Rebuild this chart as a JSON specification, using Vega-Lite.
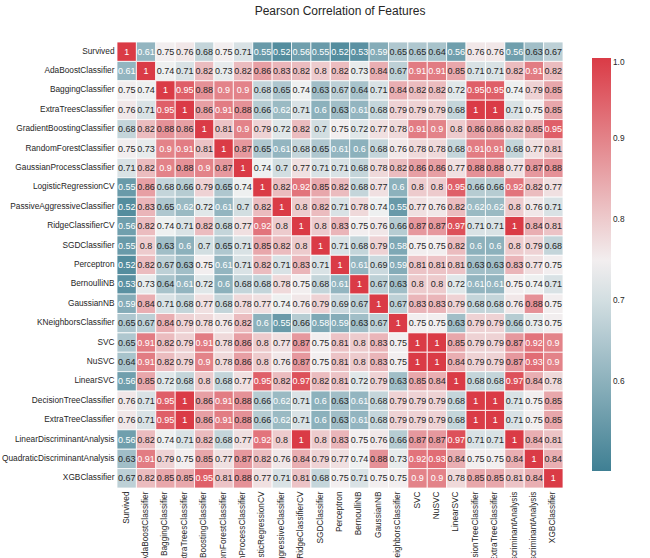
{
"$schema": "https://vega.github.io/schema/vega-lite/v6.json",
"width": 446, "height": 446,
"autosize": "none",
"padding": {"left": 117, "top": 42, "right": 87, "bottom": 70},
"background": "white",
"title": {"text": "Pearson Correlation of Features", "fontSize": 12, "font": "Liberation Sans", "fontWeight": "normal", "color": "#262626", "offset": 24, "anchor": "middle"},
"datasets": {
"names": [{"i":0,"n":"Survived"},{"i":1,"n":"AdaBoostClassifier"},{"i":2,"n":"BaggingClassifier"},{"i":3,"n":"ExtraTreesClassifier"},{"i":4,"n":"GradientBoostingClassifier"},{"i":5,"n":"RandomForestClassifier"},{"i":6,"n":"GaussianProcessClassifier"},{"i":7,"n":"LogisticRegressionCV"},{"i":8,"n":"PassiveAggressiveClassifier"},{"i":9,"n":"RidgeClassifierCV"},{"i":10,"n":"SGDClassifier"},{"i":11,"n":"Perceptron"},{"i":12,"n":"BernoulliNB"},{"i":13,"n":"GaussianNB"},{"i":14,"n":"KNeighborsClassifier"},{"i":15,"n":"SVC"},{"i":16,"n":"NuSVC"},{"i":17,"n":"LinearSVC"},{"i":18,"n":"DecisionTreeClassifier"},{"i":19,"n":"ExtraTreeClassifier"},{"i":20,"n":"LinearDiscriminantAnalysis"},{"i":21,"n":"QuadraticDiscriminantAnalysis"},{"i":22,"n":"XGBClassifier"}],
"corr": [
{"r":0,"c":0,"v":1},{"r":0,"c":1,"v":0.61},{"r":0,"c":2,"v":0.75},{"r":0,"c":3,"v":0.76},{"r":0,"c":4,"v":0.68},{"r":0,"c":5,"v":0.75},{"r":0,"c":6,"v":0.71},{"r":0,"c":7,"v":0.55},{"r":0,"c":8,"v":0.52},{"r":0,"c":9,"v":0.56},{"r":0,"c":10,"v":0.55},{"r":0,"c":11,"v":0.52},{"r":0,"c":12,"v":0.53},{"r":0,"c":13,"v":0.59},{"r":0,"c":14,"v":0.65},{"r":0,"c":15,"v":0.65},{"r":0,"c":16,"v":0.64},{"r":0,"c":17,"v":0.56},{"r":0,"c":18,"v":0.76},{"r":0,"c":19,"v":0.76},{"r":0,"c":20,"v":0.56},{"r":0,"c":21,"v":0.63},{"r":0,"c":22,"v":0.67},
{"r":1,"c":0,"v":0.61},{"r":1,"c":1,"v":1},{"r":1,"c":2,"v":0.74},{"r":1,"c":3,"v":0.71},{"r":1,"c":4,"v":0.82},{"r":1,"c":5,"v":0.73},{"r":1,"c":6,"v":0.82},{"r":1,"c":7,"v":0.86},{"r":1,"c":8,"v":0.83},{"r":1,"c":9,"v":0.82},{"r":1,"c":10,"v":0.8},{"r":1,"c":11,"v":0.82},{"r":1,"c":12,"v":0.73},{"r":1,"c":13,"v":0.84},{"r":1,"c":14,"v":0.67},{"r":1,"c":15,"v":0.91},{"r":1,"c":16,"v":0.91},{"r":1,"c":17,"v":0.85},{"r":1,"c":18,"v":0.71},{"r":1,"c":19,"v":0.71},{"r":1,"c":20,"v":0.82},{"r":1,"c":21,"v":0.91},{"r":1,"c":22,"v":0.82},
{"r":2,"c":0,"v":0.75},{"r":2,"c":1,"v":0.74},{"r":2,"c":2,"v":1},{"r":2,"c":3,"v":0.95},{"r":2,"c":4,"v":0.88},{"r":2,"c":5,"v":0.9},{"r":2,"c":6,"v":0.9},{"r":2,"c":7,"v":0.68},{"r":2,"c":8,"v":0.65},{"r":2,"c":9,"v":0.74},{"r":2,"c":10,"v":0.63},{"r":2,"c":11,"v":0.67},{"r":2,"c":12,"v":0.64},{"r":2,"c":13,"v":0.71},{"r":2,"c":14,"v":0.84},{"r":2,"c":15,"v":0.82},{"r":2,"c":16,"v":0.82},{"r":2,"c":17,"v":0.72},{"r":2,"c":18,"v":0.95},{"r":2,"c":19,"v":0.95},{"r":2,"c":20,"v":0.74},{"r":2,"c":21,"v":0.79},{"r":2,"c":22,"v":0.85},
{"r":3,"c":0,"v":0.76},{"r":3,"c":1,"v":0.71},{"r":3,"c":2,"v":0.95},{"r":3,"c":3,"v":1},{"r":3,"c":4,"v":0.86},{"r":3,"c":5,"v":0.91},{"r":3,"c":6,"v":0.88},{"r":3,"c":7,"v":0.66},{"r":3,"c":8,"v":0.62},{"r":3,"c":9,"v":0.71},{"r":3,"c":10,"v":0.6},{"r":3,"c":11,"v":0.63},{"r":3,"c":12,"v":0.61},{"r":3,"c":13,"v":0.68},{"r":3,"c":14,"v":0.79},{"r":3,"c":15,"v":0.79},{"r":3,"c":16,"v":0.79},{"r":3,"c":17,"v":0.68},{"r":3,"c":18,"v":1},{"r":3,"c":19,"v":1},{"r":3,"c":20,"v":0.71},{"r":3,"c":21,"v":0.75},{"r":3,"c":22,"v":0.85},
{"r":4,"c":0,"v":0.68},{"r":4,"c":1,"v":0.82},{"r":4,"c":2,"v":0.88},{"r":4,"c":3,"v":0.86},{"r":4,"c":4,"v":1},{"r":4,"c":5,"v":0.81},{"r":4,"c":6,"v":0.9},{"r":4,"c":7,"v":0.79},{"r":4,"c":8,"v":0.72},{"r":4,"c":9,"v":0.82},{"r":4,"c":10,"v":0.7},{"r":4,"c":11,"v":0.75},{"r":4,"c":12,"v":0.72},{"r":4,"c":13,"v":0.77},{"r":4,"c":14,"v":0.78},{"r":4,"c":15,"v":0.91},{"r":4,"c":16,"v":0.9},{"r":4,"c":17,"v":0.8},{"r":4,"c":18,"v":0.86},{"r":4,"c":19,"v":0.86},{"r":4,"c":20,"v":0.82},{"r":4,"c":21,"v":0.85},{"r":4,"c":22,"v":0.95},
{"r":5,"c":0,"v":0.75},{"r":5,"c":1,"v":0.73},{"r":5,"c":2,"v":0.9},{"r":5,"c":3,"v":0.91},{"r":5,"c":4,"v":0.81},{"r":5,"c":5,"v":1},{"r":5,"c":6,"v":0.87},{"r":5,"c":7,"v":0.65},{"r":5,"c":8,"v":0.61},{"r":5,"c":9,"v":0.68},{"r":5,"c":10,"v":0.65},{"r":5,"c":11,"v":0.61},{"r":5,"c":12,"v":0.6},{"r":5,"c":13,"v":0.68},{"r":5,"c":14,"v":0.76},{"r":5,"c":15,"v":0.78},{"r":5,"c":16,"v":0.78},{"r":5,"c":17,"v":0.68},{"r":5,"c":18,"v":0.91},{"r":5,"c":19,"v":0.91},{"r":5,"c":20,"v":0.68},{"r":5,"c":21,"v":0.77},{"r":5,"c":22,"v":0.81},
{"r":6,"c":0,"v":0.71},{"r":6,"c":1,"v":0.82},{"r":6,"c":2,"v":0.9},{"r":6,"c":3,"v":0.88},{"r":6,"c":4,"v":0.9},{"r":6,"c":5,"v":0.87},{"r":6,"c":6,"v":1},{"r":6,"c":7,"v":0.74},{"r":6,"c":8,"v":0.7},{"r":6,"c":9,"v":0.77},{"r":6,"c":10,"v":0.71},{"r":6,"c":11,"v":0.71},{"r":6,"c":12,"v":0.68},{"r":6,"c":13,"v":0.78},{"r":6,"c":14,"v":0.82},{"r":6,"c":15,"v":0.86},{"r":6,"c":16,"v":0.86},{"r":6,"c":17,"v":0.77},{"r":6,"c":18,"v":0.88},{"r":6,"c":19,"v":0.88},{"r":6,"c":20,"v":0.77},{"r":6,"c":21,"v":0.87},{"r":6,"c":22,"v":0.88},
{"r":7,"c":0,"v":0.55},{"r":7,"c":1,"v":0.86},{"r":7,"c":2,"v":0.68},{"r":7,"c":3,"v":0.66},{"r":7,"c":4,"v":0.79},{"r":7,"c":5,"v":0.65},{"r":7,"c":6,"v":0.74},{"r":7,"c":7,"v":1},{"r":7,"c":8,"v":0.82},{"r":7,"c":9,"v":0.92},{"r":7,"c":10,"v":0.85},{"r":7,"c":11,"v":0.82},{"r":7,"c":12,"v":0.68},{"r":7,"c":13,"v":0.77},{"r":7,"c":14,"v":0.6},{"r":7,"c":15,"v":0.8},{"r":7,"c":16,"v":0.8},{"r":7,"c":17,"v":0.95},{"r":7,"c":18,"v":0.66},{"r":7,"c":19,"v":0.66},{"r":7,"c":20,"v":0.92},{"r":7,"c":21,"v":0.82},{"r":7,"c":22,"v":0.77},
{"r":8,"c":0,"v":0.52},{"r":8,"c":1,"v":0.83},{"r":8,"c":2,"v":0.65},{"r":8,"c":3,"v":0.62},{"r":8,"c":4,"v":0.72},{"r":8,"c":5,"v":0.61},{"r":8,"c":6,"v":0.7},{"r":8,"c":7,"v":0.82},{"r":8,"c":8,"v":1},{"r":8,"c":9,"v":0.8},{"r":8,"c":10,"v":0.82},{"r":8,"c":11,"v":0.71},{"r":8,"c":12,"v":0.78},{"r":8,"c":13,"v":0.74},{"r":8,"c":14,"v":0.55},{"r":8,"c":15,"v":0.77},{"r":8,"c":16,"v":0.76},{"r":8,"c":17,"v":0.82},{"r":8,"c":18,"v":0.62},{"r":8,"c":19,"v":0.62},{"r":8,"c":20,"v":0.8},{"r":8,"c":21,"v":0.76},{"r":8,"c":22,"v":0.71},
{"r":9,"c":0,"v":0.56},{"r":9,"c":1,"v":0.82},{"r":9,"c":2,"v":0.74},{"r":9,"c":3,"v":0.71},{"r":9,"c":4,"v":0.82},{"r":9,"c":5,"v":0.68},{"r":9,"c":6,"v":0.77},{"r":9,"c":7,"v":0.92},{"r":9,"c":8,"v":0.8},{"r":9,"c":9,"v":1},{"r":9,"c":10,"v":0.8},{"r":9,"c":11,"v":0.83},{"r":9,"c":12,"v":0.75},{"r":9,"c":13,"v":0.76},{"r":9,"c":14,"v":0.66},{"r":9,"c":15,"v":0.87},{"r":9,"c":16,"v":0.87},{"r":9,"c":17,"v":0.97},{"r":9,"c":18,"v":0.71},{"r":9,"c":19,"v":0.71},{"r":9,"c":20,"v":1},{"r":9,"c":21,"v":0.84},{"r":9,"c":22,"v":0.81},
{"r":10,"c":0,"v":0.55},{"r":10,"c":1,"v":0.8},{"r":10,"c":2,"v":0.63},{"r":10,"c":3,"v":0.6},{"r":10,"c":4,"v":0.7},{"r":10,"c":5,"v":0.65},{"r":10,"c":6,"v":0.71},{"r":10,"c":7,"v":0.85},{"r":10,"c":8,"v":0.82},{"r":10,"c":9,"v":0.8},{"r":10,"c":10,"v":1},{"r":10,"c":11,"v":0.71},{"r":10,"c":12,"v":0.68},{"r":10,"c":13,"v":0.79},{"r":10,"c":14,"v":0.58},{"r":10,"c":15,"v":0.75},{"r":10,"c":16,"v":0.75},{"r":10,"c":17,"v":0.82},{"r":10,"c":18,"v":0.6},{"r":10,"c":19,"v":0.6},{"r":10,"c":20,"v":0.8},{"r":10,"c":21,"v":0.79},{"r":10,"c":22,"v":0.68},
{"r":11,"c":0,"v":0.52},{"r":11,"c":1,"v":0.82},{"r":11,"c":2,"v":0.67},{"r":11,"c":3,"v":0.63},{"r":11,"c":4,"v":0.75},{"r":11,"c":5,"v":0.61},{"r":11,"c":6,"v":0.71},{"r":11,"c":7,"v":0.82},{"r":11,"c":8,"v":0.71},{"r":11,"c":9,"v":0.83},{"r":11,"c":10,"v":0.71},{"r":11,"c":11,"v":1},{"r":11,"c":12,"v":0.61},{"r":11,"c":13,"v":0.69},{"r":11,"c":14,"v":0.59},{"r":11,"c":15,"v":0.81},{"r":11,"c":16,"v":0.81},{"r":11,"c":17,"v":0.81},{"r":11,"c":18,"v":0.63},{"r":11,"c":19,"v":0.63},{"r":11,"c":20,"v":0.83},{"r":11,"c":21,"v":0.77},{"r":11,"c":22,"v":0.75},
{"r":12,"c":0,"v":0.53},{"r":12,"c":1,"v":0.73},{"r":12,"c":2,"v":0.64},{"r":12,"c":3,"v":0.61},{"r":12,"c":4,"v":0.72},{"r":12,"c":5,"v":0.6},{"r":12,"c":6,"v":0.68},{"r":12,"c":7,"v":0.68},{"r":12,"c":8,"v":0.78},{"r":12,"c":9,"v":0.75},{"r":12,"c":10,"v":0.68},{"r":12,"c":11,"v":0.61},{"r":12,"c":12,"v":1},{"r":12,"c":13,"v":0.67},{"r":12,"c":14,"v":0.63},{"r":12,"c":15,"v":0.8},{"r":12,"c":16,"v":0.8},{"r":12,"c":17,"v":0.72},{"r":12,"c":18,"v":0.61},{"r":12,"c":19,"v":0.61},{"r":12,"c":20,"v":0.75},{"r":12,"c":21,"v":0.74},{"r":12,"c":22,"v":0.71},
{"r":13,"c":0,"v":0.59},{"r":13,"c":1,"v":0.84},{"r":13,"c":2,"v":0.71},{"r":13,"c":3,"v":0.68},{"r":13,"c":4,"v":0.77},{"r":13,"c":5,"v":0.68},{"r":13,"c":6,"v":0.78},{"r":13,"c":7,"v":0.77},{"r":13,"c":8,"v":0.74},{"r":13,"c":9,"v":0.76},{"r":13,"c":10,"v":0.79},{"r":13,"c":11,"v":0.69},{"r":13,"c":12,"v":0.67},{"r":13,"c":13,"v":1},{"r":13,"c":14,"v":0.67},{"r":13,"c":15,"v":0.83},{"r":13,"c":16,"v":0.83},{"r":13,"c":17,"v":0.79},{"r":13,"c":18,"v":0.68},{"r":13,"c":19,"v":0.68},{"r":13,"c":20,"v":0.76},{"r":13,"c":21,"v":0.88},{"r":13,"c":22,"v":0.75},
{"r":14,"c":0,"v":0.65},{"r":14,"c":1,"v":0.67},{"r":14,"c":2,"v":0.84},{"r":14,"c":3,"v":0.79},{"r":14,"c":4,"v":0.78},{"r":14,"c":5,"v":0.76},{"r":14,"c":6,"v":0.82},{"r":14,"c":7,"v":0.6},{"r":14,"c":8,"v":0.55},{"r":14,"c":9,"v":0.66},{"r":14,"c":10,"v":0.58},{"r":14,"c":11,"v":0.59},{"r":14,"c":12,"v":0.63},{"r":14,"c":13,"v":0.67},{"r":14,"c":14,"v":1},{"r":14,"c":15,"v":0.75},{"r":14,"c":16,"v":0.75},{"r":14,"c":17,"v":0.63},{"r":14,"c":18,"v":0.79},{"r":14,"c":19,"v":0.79},{"r":14,"c":20,"v":0.66},{"r":14,"c":21,"v":0.73},{"r":14,"c":22,"v":0.75},
{"r":15,"c":0,"v":0.65},{"r":15,"c":1,"v":0.91},{"r":15,"c":2,"v":0.82},{"r":15,"c":3,"v":0.79},{"r":15,"c":4,"v":0.91},{"r":15,"c":5,"v":0.78},{"r":15,"c":6,"v":0.86},{"r":15,"c":7,"v":0.8},{"r":15,"c":8,"v":0.77},{"r":15,"c":9,"v":0.87},{"r":15,"c":10,"v":0.75},{"r":15,"c":11,"v":0.81},{"r":15,"c":12,"v":0.8},{"r":15,"c":13,"v":0.83},{"r":15,"c":14,"v":0.75},{"r":15,"c":15,"v":1},{"r":15,"c":16,"v":1},{"r":15,"c":17,"v":0.85},{"r":15,"c":18,"v":0.79},{"r":15,"c":19,"v":0.79},{"r":15,"c":20,"v":0.87},{"r":15,"c":21,"v":0.92},{"r":15,"c":22,"v":0.9},
{"r":16,"c":0,"v":0.64},{"r":16,"c":1,"v":0.91},{"r":16,"c":2,"v":0.82},{"r":16,"c":3,"v":0.79},{"r":16,"c":4,"v":0.9},{"r":16,"c":5,"v":0.78},{"r":16,"c":6,"v":0.86},{"r":16,"c":7,"v":0.8},{"r":16,"c":8,"v":0.76},{"r":16,"c":9,"v":0.87},{"r":16,"c":10,"v":0.75},{"r":16,"c":11,"v":0.81},{"r":16,"c":12,"v":0.8},{"r":16,"c":13,"v":0.83},{"r":16,"c":14,"v":0.75},{"r":16,"c":15,"v":1},{"r":16,"c":16,"v":1},{"r":16,"c":17,"v":0.84},{"r":16,"c":18,"v":0.79},{"r":16,"c":19,"v":0.79},{"r":16,"c":20,"v":0.87},{"r":16,"c":21,"v":0.93},{"r":16,"c":22,"v":0.9},
{"r":17,"c":0,"v":0.56},{"r":17,"c":1,"v":0.85},{"r":17,"c":2,"v":0.72},{"r":17,"c":3,"v":0.68},{"r":17,"c":4,"v":0.8},{"r":17,"c":5,"v":0.68},{"r":17,"c":6,"v":0.77},{"r":17,"c":7,"v":0.95},{"r":17,"c":8,"v":0.82},{"r":17,"c":9,"v":0.97},{"r":17,"c":10,"v":0.82},{"r":17,"c":11,"v":0.81},{"r":17,"c":12,"v":0.72},{"r":17,"c":13,"v":0.79},{"r":17,"c":14,"v":0.63},{"r":17,"c":15,"v":0.85},{"r":17,"c":16,"v":0.84},{"r":17,"c":17,"v":1},{"r":17,"c":18,"v":0.68},{"r":17,"c":19,"v":0.68},{"r":17,"c":20,"v":0.97},{"r":17,"c":21,"v":0.84},{"r":17,"c":22,"v":0.78},
{"r":18,"c":0,"v":0.76},{"r":18,"c":1,"v":0.71},{"r":18,"c":2,"v":0.95},{"r":18,"c":3,"v":1},{"r":18,"c":4,"v":0.86},{"r":18,"c":5,"v":0.91},{"r":18,"c":6,"v":0.88},{"r":18,"c":7,"v":0.66},{"r":18,"c":8,"v":0.62},{"r":18,"c":9,"v":0.71},{"r":18,"c":10,"v":0.6},{"r":18,"c":11,"v":0.63},{"r":18,"c":12,"v":0.61},{"r":18,"c":13,"v":0.68},{"r":18,"c":14,"v":0.79},{"r":18,"c":15,"v":0.79},{"r":18,"c":16,"v":0.79},{"r":18,"c":17,"v":0.68},{"r":18,"c":18,"v":1},{"r":18,"c":19,"v":1},{"r":18,"c":20,"v":0.71},{"r":18,"c":21,"v":0.75},{"r":18,"c":22,"v":0.85},
{"r":19,"c":0,"v":0.76},{"r":19,"c":1,"v":0.71},{"r":19,"c":2,"v":0.95},{"r":19,"c":3,"v":1},{"r":19,"c":4,"v":0.86},{"r":19,"c":5,"v":0.91},{"r":19,"c":6,"v":0.88},{"r":19,"c":7,"v":0.66},{"r":19,"c":8,"v":0.62},{"r":19,"c":9,"v":0.71},{"r":19,"c":10,"v":0.6},{"r":19,"c":11,"v":0.63},{"r":19,"c":12,"v":0.61},{"r":19,"c":13,"v":0.68},{"r":19,"c":14,"v":0.79},{"r":19,"c":15,"v":0.79},{"r":19,"c":16,"v":0.79},{"r":19,"c":17,"v":0.68},{"r":19,"c":18,"v":1},{"r":19,"c":19,"v":1},{"r":19,"c":20,"v":0.71},{"r":19,"c":21,"v":0.75},{"r":19,"c":22,"v":0.85},
{"r":20,"c":0,"v":0.56},{"r":20,"c":1,"v":0.82},{"r":20,"c":2,"v":0.74},{"r":20,"c":3,"v":0.71},{"r":20,"c":4,"v":0.82},{"r":20,"c":5,"v":0.68},{"r":20,"c":6,"v":0.77},{"r":20,"c":7,"v":0.92},{"r":20,"c":8,"v":0.8},{"r":20,"c":9,"v":1},{"r":20,"c":10,"v":0.8},{"r":20,"c":11,"v":0.83},{"r":20,"c":12,"v":0.75},{"r":20,"c":13,"v":0.76},{"r":20,"c":14,"v":0.66},{"r":20,"c":15,"v":0.87},{"r":20,"c":16,"v":0.87},{"r":20,"c":17,"v":0.97},{"r":20,"c":18,"v":0.71},{"r":20,"c":19,"v":0.71},{"r":20,"c":20,"v":1},{"r":20,"c":21,"v":0.84},{"r":20,"c":22,"v":0.81},
{"r":21,"c":0,"v":0.63},{"r":21,"c":1,"v":0.91},{"r":21,"c":2,"v":0.79},{"r":21,"c":3,"v":0.75},{"r":21,"c":4,"v":0.85},{"r":21,"c":5,"v":0.77},{"r":21,"c":6,"v":0.87},{"r":21,"c":7,"v":0.82},{"r":21,"c":8,"v":0.76},{"r":21,"c":9,"v":0.84},{"r":21,"c":10,"v":0.79},{"r":21,"c":11,"v":0.77},{"r":21,"c":12,"v":0.74},{"r":21,"c":13,"v":0.88},{"r":21,"c":14,"v":0.73},{"r":21,"c":15,"v":0.92},{"r":21,"c":16,"v":0.93},{"r":21,"c":17,"v":0.84},{"r":21,"c":18,"v":0.75},{"r":21,"c":19,"v":0.75},{"r":21,"c":20,"v":0.84},{"r":21,"c":21,"v":1},{"r":21,"c":22,"v":0.84},
{"r":22,"c":0,"v":0.67},{"r":22,"c":1,"v":0.82},{"r":22,"c":2,"v":0.85},{"r":22,"c":3,"v":0.85},{"r":22,"c":4,"v":0.95},{"r":22,"c":5,"v":0.81},{"r":22,"c":6,"v":0.88},{"r":22,"c":7,"v":0.77},{"r":22,"c":8,"v":0.71},{"r":22,"c":9,"v":0.81},{"r":22,"c":10,"v":0.68},{"r":22,"c":11,"v":0.75},{"r":22,"c":12,"v":0.71},{"r":22,"c":13,"v":0.75},{"r":22,"c":14,"v":0.75},{"r":22,"c":15,"v":0.9},{"r":22,"c":16,"v":0.9},{"r":22,"c":17,"v":0.78},{"r":22,"c":18,"v":0.85},{"r":22,"c":19,"v":0.85},{"r":22,"c":20,"v":0.81},{"r":22,"c":21,"v":0.84},{"r":22,"c":22,"v":1}
]
},
"data": {"name": "corr"},
"transform": [
{"lookup": "r", "from": {"data": {"name": "names"}, "key": "i", "fields": ["n"]}, "as": ["rn"]},
{"lookup": "c", "from": {"data": {"name": "names"}, "key": "i", "fields": ["n"]}, "as": ["cn"]}
],
"encoding": {
"x": {"field": "cn", "type": "nominal", "sort": {"field": "c", "op": "min"}, "axis": {"title": null, "labelAngle": -90, "labelFontSize": 8.3, "labelFont": "Liberation Sans", "labelColor": "#262626", "ticks": false, "domain": false, "labelPadding": 3, "labelLimit": 0}},
"y": {"field": "rn", "type": "nominal", "sort": {"field": "r", "op": "min"}, "axis": {"title": null, "labelFontSize": 8.3, "labelFont": "Liberation Sans", "labelColor": "#262626", "ticks": false, "domain": false, "labelPadding": 3, "labelLimit": 0}}
},
"layer": [
{"mark": {"type": "rect", "stroke": "white", "strokeWidth": 0.8},
 "encoding": {"color": {"field": "v", "type": "quantitative",
  "scale": {"domain": [0.49, 0.745, 1], "range": ["#3f7f93", "#f2f2f2", "#da3b46"], "interpolate": "rgb"},
  "legend": {"title": null, "orient": "none", "legendX": 475, "legendY": 16, "direction": "vertical", "gradientLength": 413, "gradientThickness": 19, "values": [0.6, 0.7, 0.8, 0.9, 1.0], "format": ".1f", "labelFontSize": 8.3, "labelFont": "Liberation Sans", "labelColor": "#262626", "gradientStrokeWidth": 0, "tickCount": 5}}}},
{"mark": {"type": "text", "fontSize": 9, "font": "Liberation Sans"},
 "encoding": {"text": {"field": "v", "type": "quantitative", "format": ".2~f"},
  "color": {"condition": {"test": "datum.v < 0.625 || datum.v > 0.895", "value": "white"}, "value": "#262626"}}}
],
"config": {"view": {"stroke": null}}
}
